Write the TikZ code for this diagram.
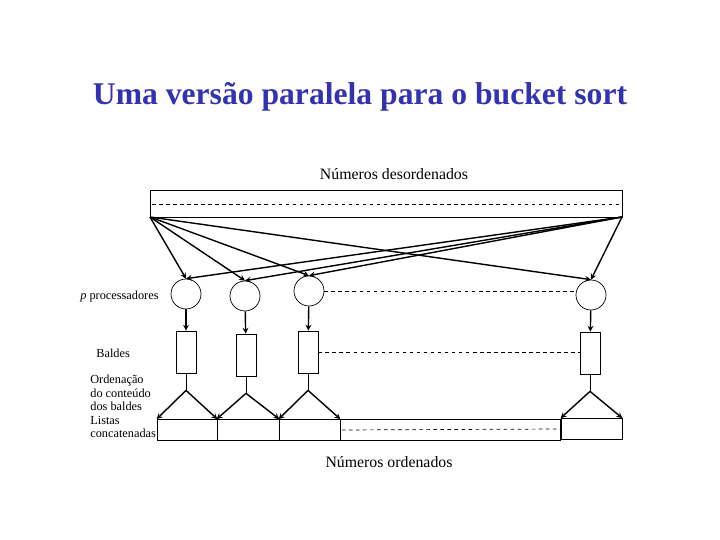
\documentclass[tikz,border=0pt]{standalone}
\usepackage{fontspec}
\setmainfont{Liberation Serif}
\usetikzlibrary{arrows}
\definecolor{titleblue}{rgb}{0.2,0.2,0.7}
\begin{document}
\begin{tikzpicture}[
            x = 0.03cm, y = -0.03cm,
            > = stealth, % arrow head style
            semithick % line style
        ]

        \tikzstyle{proc}=[draw, circle, minimum size = 0.9cm, inner sep = 0pt]
        \tikzstyle{balde}=[draw, minimum width = 0.6cm, minimum height = 1.26cm, inner sep = 0pt]
        \tikzstyle{lista}=[draw, minimum height = 0.63cm, inner sep = 0pt]
        \tikzstyle{lbl}=[font = \fontsize{10.5}{11.5}\selectfont, align = left, inner sep = 0pt]
        \tikzstyle{flow}=[->, very thick]

        \useasboundingbox (0,0) rectangle (720,540);

        % title
        \node[text = titleblue, font = \fontsize{27}{30}\selectfont\bfseries] (T) at (360,97) {Uma versão paralela para o bucket sort};

        % unsorted numbers
        \node[font = \fontsize{13.5}{15}\selectfont] (ND) at (394,174) {Números desordenados};
        \draw (150,190) rectangle (622,217);
        \draw[dashed] (152,204) -- (620,204);
        \coordinate (TL) at (150,217);
        \coordinate (TR) at (622,217);

        % processors
        \node[proc] (P1) at (186,294) {};
        \node[proc] (P2) at (245,296) {};
        \node[proc] (P3) at (309,291) {};
        \node[proc] (P4) at (591,295) {};
        \draw[dashed] (P3.east) -- (P3.east -| P4.west);
        \node[lbl, anchor = west] (LP) at (80,297) {\textit{p} processadores};

        \foreach \p in {P1,P2,P3,P4} {
            \draw[flow] (TL) -- (\p.north);
            \draw[flow] (TR) -- (\p.north);
        }

        % buckets
        \node[balde] (B1) at (186,352) {};
        \node[balde] (B2) at (246,355) {};
        \node[balde] (B3) at (308,352) {};
        \node[balde] (B4) at (590,353) {};
        \draw[dashed] (B3.east) -- (B3.east -| B4.west);
        \node[lbl, anchor = west] (LB) at (96,353) {Baldes};
        \foreach \i in {1,2,3,4}
            \draw[flow] (P\i) -- (B\i);

        % sorting
        \node[lbl, anchor = north west] (LO) at (90,375) {Ordenação\\do conteúdo\\dos baldes\\Listas\\concatenadas};

        % concatenated lists
        \node[lista, minimum width = 1.8cm] (L1) at (187,430) {};
        \node[lista, minimum width = 1.86cm] (L2) at (248,430) {};
        \node[lista, minimum width = 1.83cm] (L3) at (309.5,430) {};
        \node[lista, minimum width = 6.6cm] (L4) at (450.5,430) {};
        \node[lista, minimum width = 1.83cm] (L5) at (591.5,429) {};
        \draw[dashed] (342,430) -- (L5.west);

        \foreach \b/\l in {B1/L1, B2/L2, B3/L3, B4/L5} {
            \coordinate (\b s) at ([yshift = -0.51cm]\b.south);
            \draw (\b.south) -- (\b s);
            \draw[flow] (\b s) -- (\l.north west);
            \draw[flow] (\b s) -- (\l.north east);
        }

        \node[font = \fontsize{13.5}{15}\selectfont] (NO) at (389,462) {Números ordenados};
\end{tikzpicture}
\end{document}
